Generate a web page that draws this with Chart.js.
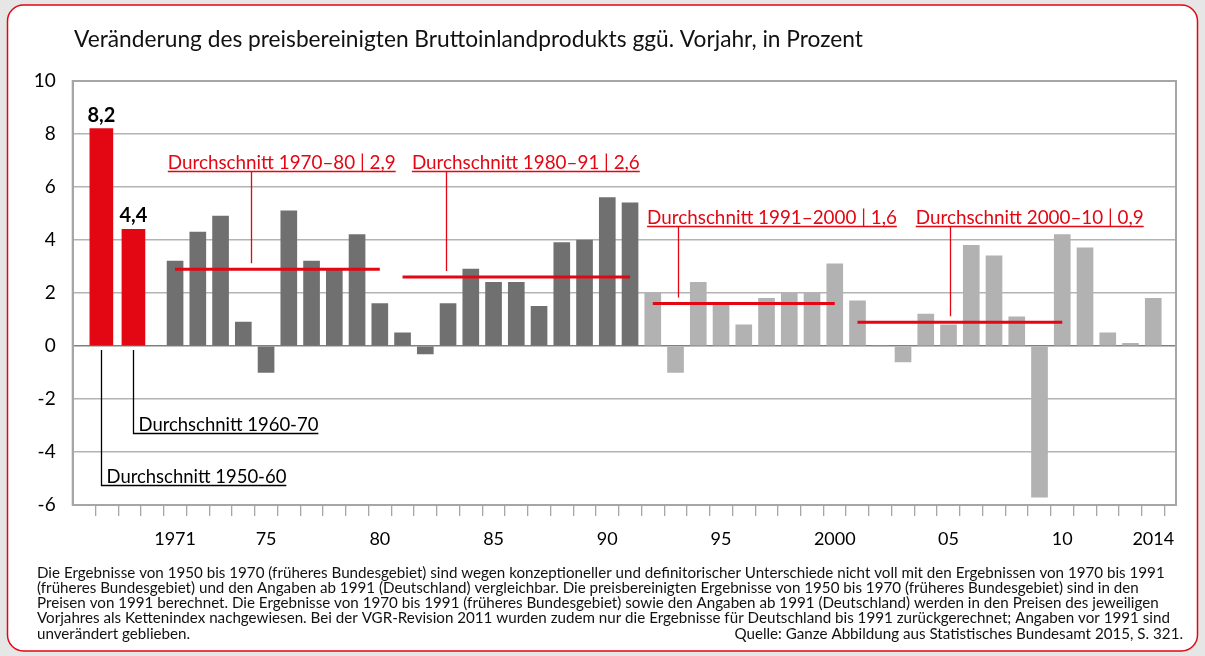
<!DOCTYPE html>
<html>
<head>
<meta charset="utf-8">
<script src="https://cdn.jsdelivr.net/npm/chart.js@4.4.1/dist/chart.umd.min.js"></script>
<style>
  html, body { margin: 0; padding: 0; background: #e6e6e6; }
  canvas { display: block; }
</style>
</head>
<body>
<canvas id="bip" width="1205" height="656"></canvas>
<script>
// --- data ---
const years = [1971,1972,1973,1974,1975,1976,1977,1978,1979,1980,1981,1982,1983,1984,1985,1986,1987,1988,1989,1990,
  1991,1992,1993,1994,1995,1996,1997,1998,1999,2000,2001,2002,2003,2004,2005,2006,2007,2008,2009,2010,2011,2012,2013,2014];
// früheres Bundesgebiet 1971-1991
const growthWest = [3.2,4.3,4.9,0.9,-1.0,5.1,3.2,2.9,4.2,1.6,0.5,-0.3,1.6,2.9,2.4,2.4,1.5,3.9,4.0,5.6,5.4];
// Deutschland 1992-2014
const growthGermany = [2.0,-1.0,2.4,1.6,0.8,1.8,2.0,2.0,3.1,1.7,0.0,-0.6,1.2,0.8,3.8,3.4,1.1,-5.7,4.2,3.7,0.5,0.1,1.8];

const earlyPeriods = ['1950-60', '1960-70'];
const earlyValues = [8.2, 4.4];

const avgPeriods = ['1970–80', '1980–91', '1991–2000', '2000–10'];
const avgValues = [2.9, 2.6, 1.6, 0.9];
const avgFrom = [1971, 1981, 1992, 2001];
const avgTo = [1980, 1991, 2000, 2010];

const tickYears = [1971, 1975, 1980, 1985, 1990, 1995, 2000, 2005, 2010, 2014];
const tickLabels = ['1971', '75', '80', '85', '90', '95', '2000', '05', '10', '2014'];

const title = 'Veränderung des preisbereinigten Bruttoinlandprodukts ggü. Vorjahr, in Prozent';
const notes = [
  'Die Ergebnisse von 1950 bis 1970 (früheres Bundesgebiet) sind wegen konzeptioneller und definitorischer Unterschiede nicht voll mit den Ergebnissen von 1970 bis 1991',
  '(früheres Bundesgebiet) und den Angaben ab 1991 (Deutschland) vergleichbar. Die preisbereinigten Ergebnisse von 1950 bis 1970 (früheres Bundesgebiet) sind in den',
  'Preisen von 1991 berechnet. Die Ergebnisse von 1970 bis 1991 (früheres Bundesgebiet) sowie den Angaben ab 1991 (Deutschland) werden in den Preisen des jeweiligen',
  'Vorjahres als Kettenindex nachgewiesen. Bei der VGR-Revision 2011 wurden zudem nur die Ergebnisse für Deutschland bis 1991 zurückgerechnet; Angaben vor 1991 sind',
  'unverändert geblieben.'
];
const source = 'Quelle: Ganze Abbildung aus Statistisches Bundesamt 2015, S. 321.';

// --- layout (positions in axis units) ---
const earlyBarX = [1967.76, 1969.17];
const redLabelLayout = [
  { x: 1970.68, y: 6.6, lead: 1974.33 },
  { x: 1981.41, y: 6.6, lead: 1982.9 },
  { x: 1991.75, y: 4.54, lead: 1993.11 },
  { x: 2003.56, y: 4.54, lead: 2005.08 }
];
const blackLabelY = [-5.25, -3.3];

const RED = '#e30613';
const DARK = '#707070';
const LIGHT = '#b2b2b2';
const FONT = 'Lato';

// fit font sizes to the widths seen in the original
const meas = document.createElement('canvas').getContext('2d');
function fitSize(text, weight, width) {
  meas.font = weight + ' 100px ' + FONT;
  return 100 * width / meas.measureText(text).width;
}
const fmt = v => v.toFixed(1).replace('.', ',');
const redTexts = avgPeriods.map((p, i) => 'Durchschnitt ' + p + ' | ' + fmt(avgValues[i]));
const blackTexts = earlyPeriods.map(p => 'Durchschnitt ' + p);
const titleSize = fitSize(title, 'normal', 789);
const noteSize = fitSize(notes[0], 'normal', 1129);
const redSize = fitSize(redTexts[0], 'normal', 228);
const blackSize = fitSize(blackTexts[0], 'normal', 180);

// tick marks sit on the borders between years
const slotEdges = [1967.5, 1968.5, 1969.5].concat(years.map(y => y - 0.5), [2014.5]);

const decor = {
  id: 'decor',
  beforeDraw(chart) {
    const ctx = chart.ctx;
    ctx.save();
    ctx.fillStyle = '#e6e6e6';
    ctx.fillRect(0, 0, chart.width, chart.height);
    ctx.beginPath();
    ctx.roundRect(7.5, 5, 1190, 646, 16);
    ctx.fillStyle = '#ffffff';
    ctx.fill();
    ctx.lineWidth = 1.5;
    ctx.strokeStyle = RED;
    ctx.stroke();

    ctx.fillStyle = '#111';
    ctx.font = titleSize + 'px ' + FONT;
    ctx.textBaseline = 'alphabetic';
    ctx.fillText(title, 74, 47);

    // footnote
    ctx.font = noteSize + 'px ' + FONT;
    ctx.textBaseline = 'middle';
    const lh = 15.2;
    notes.forEach((t, i) => ctx.fillText(t, 37, 573 + i * lh));
    ctx.textAlign = 'right';
    ctx.fillText(source, 1183, 573 + 4 * lh);
    ctx.restore();
  },
  beforeDatasetsDraw(chart) {
    const {ctx, chartArea: a} = chart;
    ctx.save();
    ctx.strokeStyle = '#a6a6a6';
    ctx.lineWidth = 2;
    ctx.strokeRect(a.left, a.top, a.right - a.left, a.bottom - a.top);
    ctx.restore();
  },
  afterDraw(chart) {
    const ctx = chart.ctx;
    const xs = chart.scales.x, ys = chart.scales.y;
    const zero = ys.getPixelForValue(0);
    ctx.save();
    ctx.lineWidth = 1.3;

    // bold values over the two early bars
    ctx.font = 'bold 20px ' + FONT;
    ctx.textAlign = 'center';
    ctx.textBaseline = 'alphabetic';
    ctx.fillStyle = '#000';
    earlyValues.forEach((v, i) => {
      ctx.fillText(fmt(v), xs.getPixelForValue(earlyBarX[i]), ys.getPixelForValue(v) - 7);
    });

    // black labels with leaders from the early bars
    ctx.textAlign = 'left';
    ctx.font = blackSize + 'px ' + FONT;
    ctx.strokeStyle = '#000';
    blackTexts.forEach((t, i) => {
      const bx = Math.round(xs.getPixelForValue(earlyBarX[i])) + 0.5;
      const ly = Math.round(ys.getPixelForValue(blackLabelY[i])) + 0.5;
      const tx = bx + 5;
      ctx.fillText(t, tx, ly - 2.5);
      const w = ctx.measureText(t).width;
      ctx.beginPath();
      ctx.moveTo(bx, zero + 4);
      ctx.lineTo(bx, ly);
      ctx.lineTo(tx + w, ly);
      ctx.stroke();
    });

    // red labels with leaders down to the average lines
    ctx.font = redSize + 'px ' + FONT;
    ctx.fillStyle = RED;
    ctx.strokeStyle = RED;
    redTexts.forEach((t, i) => {
      const L = redLabelLayout[i];
      const tx = xs.getPixelForValue(L.x);
      const ly = Math.round(ys.getPixelForValue(L.y)) + 0.5;
      const lx = Math.round(xs.getPixelForValue(L.lead)) + 0.5;
      ctx.fillText(t, tx, ly - 2.5);
      const w = ctx.measureText(t).width;
      ctx.beginPath();
      ctx.moveTo(tx, ly);
      ctx.lineTo(tx + w, ly);
      ctx.moveTo(lx, ly);
      ctx.lineTo(lx, ys.getPixelForValue(avgValues[i]) - 6);
      ctx.stroke();
    });
    ctx.restore();
  }
};

const datasets = [];
avgValues.forEach((v, i) => {
  datasets.push({
    type: 'line',
    data: [{x: avgFrom[i], y: v}, {x: avgTo[i], y: v}],
    borderColor: RED,
    borderWidth: 3,
    pointRadius: 0,
    order: 0
  });
});
datasets.push({
  data: earlyValues.map((v, i) => ({x: earlyBarX[i], y: v})),
  backgroundColor: RED,
  barThickness: 23,
  order: 1
});
datasets.push({
  data: growthWest.map((v, i) => ({x: years[i], y: v})),
  backgroundColor: DARK,
  barThickness: 16,
  order: 1
});
datasets.push({
  data: growthGermany.map((v, i) => ({x: years[growthWest.length + i], y: v})),
  backgroundColor: LIGHT,
  barThickness: 16,
  order: 1
});

new Chart(document.getElementById('bip'), {
  type: 'bar',
  data: { datasets },
  options: {
    responsive: false,
    animation: false,
    layout: { padding: { left: 0, top: 81, right: 29, bottom: 106 } },
    datasets: { bar: { grouped: false } },
    plugins: { legend: { display: false }, tooltip: { enabled: false } },
    scales: {
      x: {
        type: 'linear',
        min: 1966.5,
        max: 2015,
        offset: false,
        afterBuildTicks: s => { s.ticks = slotEdges.map(v => ({ value: v })); },
        afterFit: s => { s.height = 45; },
        grid: { offset: false, drawOnChartArea: false, drawTicks: true, tickLength: 11, color: '#a6a6a6', lineWidth: 1.3 },
        border: { display: true, color: '#a6a6a6', width: 2 },
        ticks: {
          autoSkip: false, maxRotation: 0, minRotation: 0,
          labelOffset: 11.4, padding: 12,
          color: '#000', font: { family: FONT, size: 18 },
          callback: v => { const i = tickYears.indexOf(v + 0.5); return i < 0 ? '' : tickLabels[i]; }
        }
      },
      y: {
        min: -6,
        max: 10,
        afterFit: s => { s.width = 72.7; },
        grid: {
          drawTicks: false,
          lineWidth: 1.5,
          color: c => c.tick && c.tick.value === 0 ? '#808080' : '#b3b3b3'
        },
        border: { display: true, color: '#a6a6a6', width: 2 },
        ticks: {
          stepSize: 2, padding: 17,
          color: '#000', font: { family: FONT, size: 19 },
          callback: v => String(v)
        }
      }
    }
  },
  plugins: [decor]
});
</script>
</body>
</html>
